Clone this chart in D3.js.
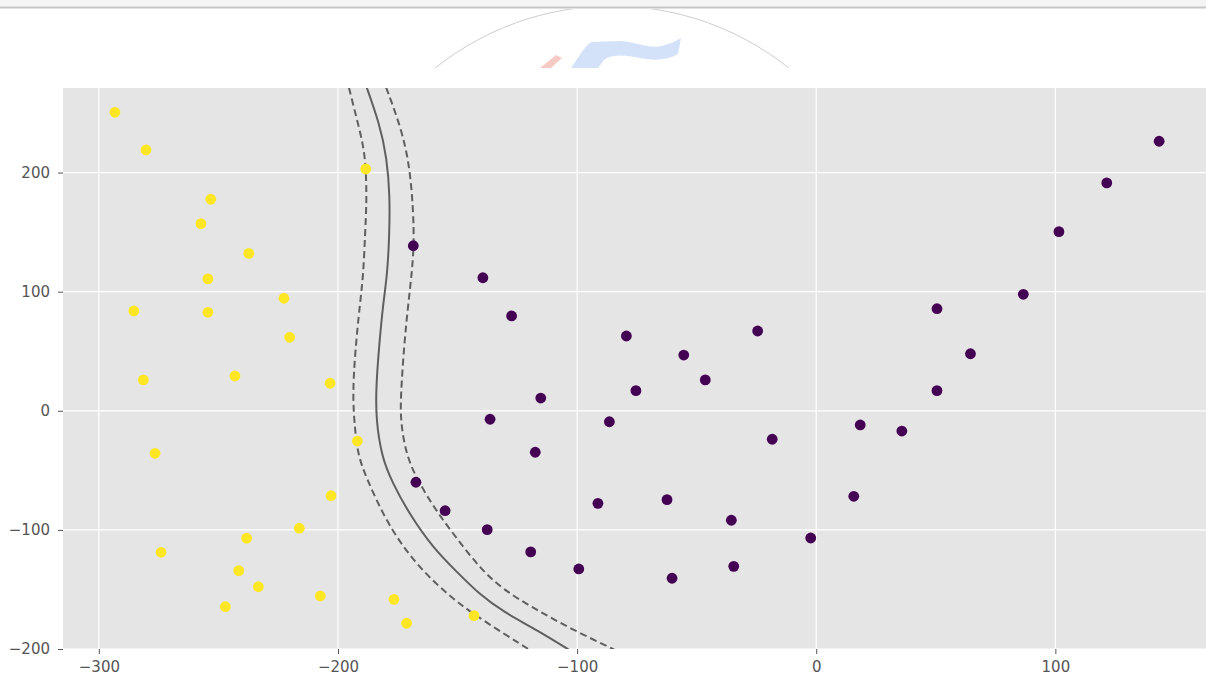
<!DOCTYPE html>
<html><head><meta charset="utf-8">
<script src="https://cdn.jsdelivr.net/npm/d3@7"></script>
<style>html,body{margin:0;padding:0;background:#fff;overflow:hidden;} svg{display:block;font-family:"DejaVu Sans",sans-serif;}</style>
</head><body><svg id="c" width="1206" height="677"></svg>
<script>
// ---- data ----
const xTicks = [-300, -200, -100, 0, 100];
const yTicks = [-200, -100, 0, 100, 200];

// class 1 (yellow)
const class1X = [-293.3,-280.3,-188.4,-253.2,-257.3,-237.3,-254.4,-222.6,-285.4,-254.4,-220.2,-281.4,-243.1,-203.3,-191.9,-276.5,-202.9,-216.2,-238.2,-274.0,-241.5,-233.3,-207.4,-247.1,-176.6,-171.3,-143.1];
const class1Y = [250.6,219.0,203.0,177.6,157.1,132.2,110.7,94.5,83.8,82.7,61.7,25.9,29.2,23.1,-25.4,-35.7,-71.3,-98.6,-107.0,-118.8,-134.2,-147.7,-155.5,-164.5,-158.3,-178.4,-172.0];

// class 0 (purple)
const class0X = [-168.5,-139.4,-127.4,-79.4,-55.4,-24.5,-46.4,-115.2,-75.4,-136.4,-86.5,-18.4,-117.5,-167.4,-155.2,-91.3,-62.4,-137.6,-35.5,-2.3,-119.4,-99.3,-34.5,-60.3,143.4,121.5,101.5,86.6,50.5,64.5,50.5,18.4,35.8,15.7];
const class0Y = [138.6,111.7,79.6,62.8,46.8,67.0,25.9,10.7,16.9,-7.1,-9.2,-23.9,-34.8,-60.0,-83.9,-77.7,-74.6,-99.8,-91.9,-106.8,-118.5,-132.8,-130.6,-140.6,226.3,191.3,150.4,97.8,85.7,47.9,16.9,-11.9,-17.0,-71.8];

// decision boundary (level 0) and margins (levels -1, +1)
const boundaryX = [-189.5,-182.4,-179.6,-178.3,-178.5,-179.4,-181.1,-182.7,-184.1,-184.1,-181.7,-177.5,-169.9,-160.1,-150.4,-140.6,-130.9,-116.9,-101.5];
const boundaryY = [280.0,240.0,212.3,181.2,147.6,114.0,90.5,56.9,20.2,-7.7,-38.5,-59.5,-87.6,-115.4,-135.1,-154.6,-168.7,-184.0,-203.0];
const marginLowX = [-196.5,-192.1,-189.4,-188.3,-188.0,-188.7,-189.4,-190.8,-192.9,-193.9,-192.9,-191.5,-188.0,-181.1,-173.4,-164.3,-153.9,-144.8,-130.9,-118.0];
const marginLowY = [280.0,244.6,223.2,203.6,175.5,147.6,114.0,90.3,48.3,11.8,-16.1,-38.5,-56.7,-87.5,-112.7,-135.1,-154.6,-168.7,-186.8,-203.0];
const marginHighX = [-181.5,-173.4,-169.9,-168.5,-168.2,-169.2,-170.6,-172.4,-173.8,-173.8,-171.3,-166.4,-158.7,-150.4,-140.6,-130.9,-116.9,-103.0,-82.0];
const marginHighY = [280.0,237.2,203.6,167.2,139.2,114.0,90.3,53.8,11.8,-10.2,-38.5,-59.5,-84.7,-107.0,-132.2,-150.4,-167.2,-182.6,-203.0];

// ---- chart ----
const W = 1206, H = 677;
const L = 63, R = 1206, T = 88, B = 649;
const svg = d3.select("#c");

// top strip + faint watermark (page decoration)
svg.append("rect").attr("x",0).attr("y",0).attr("width",W).attr("height",7).attr("fill","#f4f4f4");
svg.append("line").attr("x1",0).attr("x2",W).attr("y1",7.5).attr("y2",7.5).attr("stroke","#c6c6c6").attr("stroke-width",2);
const defs = svg.append("defs");
defs.append("clipPath").attr("id","wm").append("rect").attr("x",0).attr("y",9).attr("width",W).attr("height",59);
defs.append("clipPath").attr("id","plot").append("rect").attr("x",L).attr("y",T).attr("width",R-L).attr("height",B-T);
const wm = svg.append("g").attr("clip-path","url(#wm)");
wm.append("circle").attr("cx",612).attr("cy",289).attr("r",283).attr("fill","none").attr("stroke","#cdcdcd").attr("stroke-width",1);
wm.append("path").attr("d","M571,68 C578,58 584,47 591,42 L620,41 C637,42 650,49 662,46 C670,44 676,41 681,38 L678,54 C668,60 655,61 640,58 C625,55 612,54 604,60 L598,68 Z").attr("fill","#d3e2f8");
wm.append("path").attr("d","M540,68 L556,55 L562,58 L551,68 Z").attr("fill","#f6cbc6");

const x = d3.scaleLinear().domain([-315, 163]).range([L, R]);
const y = d3.scaleLinear().domain([-200, 271]).range([B, T]);

// background
svg.append("rect").attr("x",L).attr("y",T).attr("width",R-L).attr("height",B-T).attr("fill","#e5e5e5");

// grid
const grid = svg.append("g");
grid.selectAll(".gx").data(xTicks).join("line")
  .attr("x1",d=>x(d)).attr("x2",d=>x(d)).attr("y1",T).attr("y2",B)
  .attr("stroke","#fff").attr("stroke-width",1.2);
grid.selectAll(".gy").data(yTicks).join("line")
  .attr("y1",d=>y(d)).attr("y2",d=>y(d)).attr("x1",L).attr("x2",R)
  .attr("stroke","#fff").attr("stroke-width",1.2);

// axes
const fmt = d => d < 0 ? "\u2212" + Math.abs(d) : String(d);
const xAxis = svg.append("g").attr("transform",`translate(0,${B})`)
  .call(d3.axisBottom(x).tickValues(xTicks).tickFormat(fmt).tickSize(5).tickPadding(7));
const yAxis = svg.append("g").attr("transform",`translate(${L},0)`)
  .call(d3.axisLeft(y).tickValues(yTicks).tickFormat(fmt).tickSize(5).tickPadding(8));
[xAxis, yAxis].forEach(a => {
  a.select(".domain").remove();
  a.selectAll(".tick line").attr("stroke","#555").attr("stroke-width",1);
  a.selectAll(".tick text").attr("fill","#555").attr("font-size",15).attr("font-family","DejaVu Sans");
});

// contour lines
const line = d3.line().x(d=>x(d[0])).y(d=>y(d[1])).curve(d3.curveBasis);
const cg = svg.append("g").attr("clip-path","url(#plot)");
const zip = (a,b) => a.map((v,i)=>[v,b[i]]);
const lineColor = "#5f5f5f";
cg.append("path").datum(zip(marginLowX, marginLowY)).attr("d",line)
  .attr("fill","none").attr("stroke",lineColor).attr("stroke-width",2).attr("stroke-dasharray","7,4");
cg.append("path").datum(zip(boundaryX, boundaryY)).attr("d",line)
  .attr("fill","none").attr("stroke",lineColor).attr("stroke-width",2);
cg.append("path").datum(zip(marginHighX, marginHighY)).attr("d",line)
  .attr("fill","none").attr("stroke",lineColor).attr("stroke-width",2).attr("stroke-dasharray","7,4");

// points
const pg = svg.append("g").attr("clip-path","url(#plot)");
pg.selectAll(".p1").data(zip(class1X, class1Y)).join("circle")
  .attr("cx",d=>x(d[0])).attr("cy",d=>y(d[1])).attr("r",5.4).attr("fill","#fde725");
pg.selectAll(".p0").data(zip(class0X, class0Y)).join("circle")
  .attr("cx",d=>x(d[0])).attr("cy",d=>y(d[1])).attr("r",5.4).attr("fill","#440154");
</script></body></html>
